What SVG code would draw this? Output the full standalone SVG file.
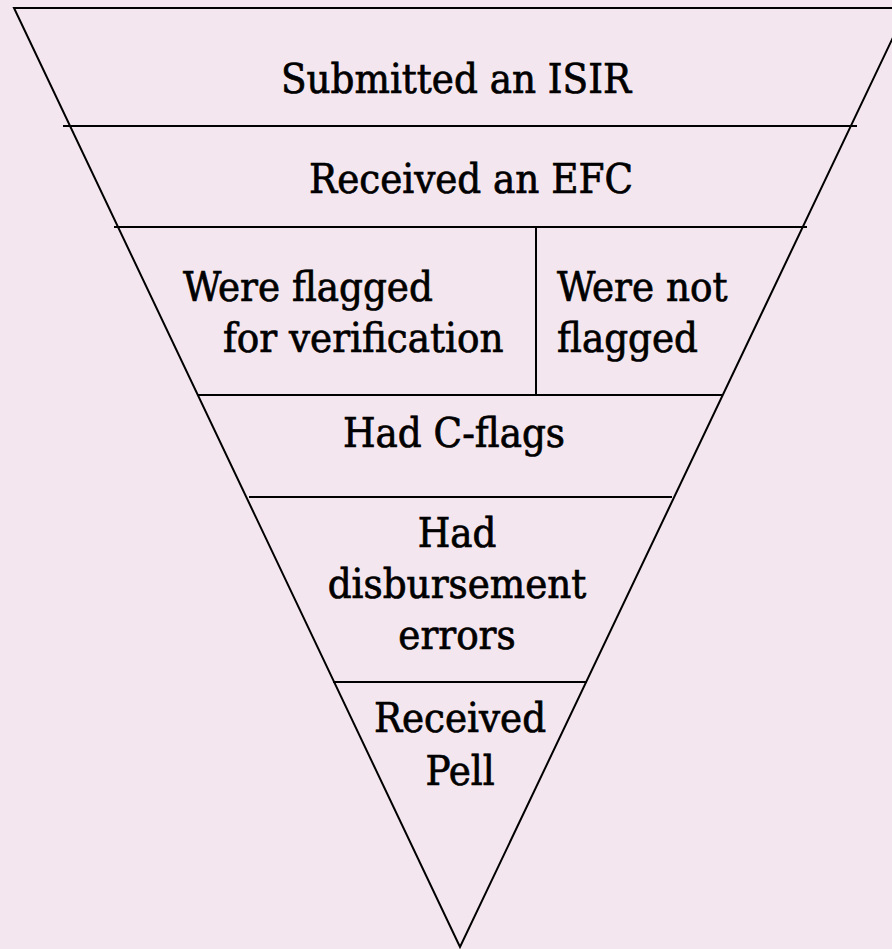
<svg xmlns="http://www.w3.org/2000/svg" width="892" height="949" viewBox="0 0 892 949">
<style>
.ln{stroke:#000;stroke-width:2;fill:none}
.t{font-family:"DejaVu Serif","Liberation Serif",serif;font-stretch:condensed;font-size:41.5px;fill:#000;stroke:#000;stroke-width:0.7}
.c{text-anchor:middle}
</style>
<rect width="892" height="949" fill="#F4E6EE"/>
<g id="connectors">
<polyline class="ln" points="892,8 14,8 460,947 907,8"/>
<line class="ln" x1="63" y1="126" x2="857" y2="126"/>
<line class="ln" x1="114" y1="227" x2="807" y2="227"/>
<line class="ln" x1="536" y1="227" x2="536" y2="395"/>
<line class="ln" x1="198" y1="395" x2="722" y2="395"/>
<line class="ln" x1="249" y1="497" x2="672" y2="497"/>
<line class="ln" x1="333" y1="682" x2="587" y2="682"/>
</g>
<g id="n1"><text class="t c" x="456" y="93">Submitted an ISIR</text></g>
<g id="n2"><text class="t c" x="471" y="193">Received an EFC</text></g>
<g id="n3"><text class="t" x="183" y="301">Were flagged</text><text class="t" x="223" y="352">for verification</text></g>
<g id="n4"><text class="t" x="557" y="301">Were not</text><text class="t" x="557" y="352">flagged</text></g>
<g id="n5"><text class="t c" x="454" y="447">Had C-flags</text></g>
<g id="n6"><text class="t c" x="457" y="547">Had</text><text class="t c" x="457" y="598">disbursement</text><text class="t c" x="457" y="649">errors</text></g>
<g id="n7"><text class="t c" x="460" y="732">Received</text><text class="t c" x="460" y="785">Pell</text></g>
</svg>
